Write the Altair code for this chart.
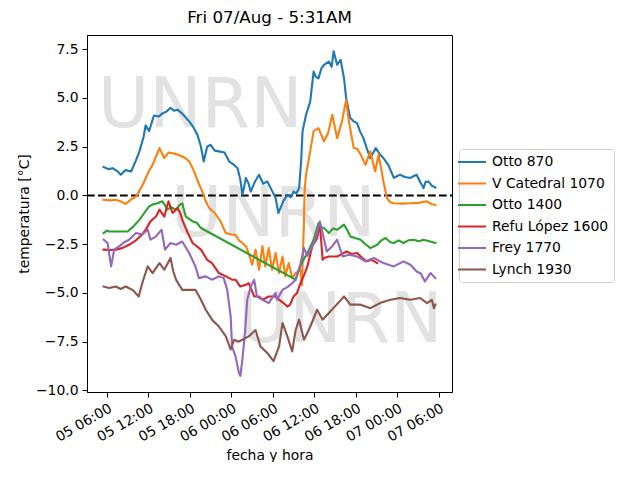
import altair as alt
import pandas as pd

# ---- data (hours after 2020-08-05 06:00, temperature in °C) ----
SERIES = ["Otto 870", "V Catedral 1070", "Otto 1400", "Refu López 1600", "Frey 1770", "Lynch 1930"]
COLORS = ["#1f77b4", "#ff7f0e", "#2ca02c", "#d62728", "#9467bd", "#8c564b"]

H_OTTO870 = [-0.48, 0.2, 0.8, 1.5, 2.0, 2.7, 3.5, 4.2, 4.7, 5.3, 5.6, 6.1, 6.8, 7.5, 8.0, 8.6, 9.2, 9.7,
             10.2, 10.9, 11.9, 12.5, 13.1, 13.6, 14.0, 14.5, 15.0, 15.6, 16.2, 17.0, 17.7, 18.3, 18.9, 19.3,
             19.6, 20.1, 20.5, 20.8, 21.4, 22.0, 22.6, 23.2, 23.8, 24.4, 24.8, 25.1, 25.5, 26.1, 26.6, 27.0,
             27.4, 27.8, 28.1, 28.3, 28.8, 29.4, 29.9, 30.2, 30.6, 31.0, 31.4, 32.1, 32.5, 32.8, 33.3, 33.8,
             34.3, 34.6, 35.2, 35.7, 36.2, 36.6, 37.1, 37.6, 38.1, 38.9, 39.5, 40.0, 40.7, 41.5, 42.0, 42.4,
             43.1, 43.9, 44.4, 44.8, 45.3, 45.8, 46.1, 46.5, 47.0, 47.52]
V_OTTO870 = [1.46, 1.35, 1.4, 1.25, 1.06, 1.3, 1.23, 1.8, 2.26, 3.0, 3.6, 3.3, 4.1, 4.05, 4.2, 4.3, 4.5, 4.35,
             4.4, 4.2, 3.8, 3.5, 3.1, 2.5, 1.74, 2.5, 2.6, 2.3, 2.26, 2.2, 1.74, 1.6, 1.4, 0.8,
             0.03, 0.9, 0.6, 0.2, 0.7, 1.06, 0.6, 0.72, 0.3, -0.13, -0.9, -0.65, -0.3, 0.03, -0.1, 0.2,
             0.1, 0.38, 1.8, 3.3, 4.14, 4.8, 6.36, 6.1, 6.0, 6.5, 6.7, 6.87, 6.6, 7.4, 6.7, 6.96,
             6.0, 5.0, 3.97, 3.8, 3.7, 3.3, 2.94, 2.4, 1.92, 2.43, 2.1, 1.92, 1.57, 0.9, 1.0, 1.06,
             0.95, 0.9, 1.0, 1.06, 0.7, 0.38, 0.7, 0.72, 0.5, 0.41]

H_VCAT1070 = [-0.48, 0.5, 1.3, 2.0, 2.7, 3.5, 4.2, 4.8, 5.4, 6.0, 6.6, 7.1, 7.6, 8.3, 8.9, 9.5, 10.2, 10.9,
              11.4, 11.9, 12.4, 12.8, 13.3, 13.8, 14.3, 14.8, 15.6, 16.4, 17.2, 18.0, 18.6, 19.1, 19.6,
              20.1, 20.5, 21.0, 21.5, 22.0, 22.5, 22.9, 23.4, 23.9, 24.4, 24.9, 25.4, 25.8, 26.3, 26.8,
              27.3, 28.0, 28.2, 28.5, 28.6, 28.8, 29.4, 29.9, 30.6, 31.4, 32.0, 32.6, 33.3, 34.0, 34.6,
              35.0, 35.7, 36.2, 36.7, 37.4, 38.1, 38.8, 39.3, 40.0, 40.5, 41.0, 41.5, 42.7, 43.9, 45.1,
              46.3, 47.0, 47.52]
V_VCAT1070 = [-0.22, -0.25, -0.22, -0.3, -0.44, -0.2, -0.05, 0.3, 0.72, 1.2, 1.57, 2.0, 2.43, 1.92, 2.2, 2.17,
              2.1, 2.0, 1.9, 1.74, 1.4, 1.06, 0.6, 0.2, -0.3, -0.65, -0.9, -1.3, -1.93, -2.0, -2.02, -2.3,
              -2.44, -2.6, -2.95, -3.55, -2.78, -3.81, -2.6, -3.64, -2.7, -3.81, -2.95, -3.98, -3.13, -4.15,
              -3.47, -4.24, -3.98, -3.81, -4.6, -1.42, 0.3, 1.06, 2.26, 3.3, 3.45, 2.77, 3.2, 4.14, 2.94,
              3.8, 4.9, 3.8, 2.43, 2.4, 2.1, 1.57, 2.26, 1.23, 2.1, 0.72, -0.13, -0.35, -0.4, -0.42, -0.4,
              -0.38, -0.3, -0.45, -0.48]

H_OTTO1400 = [-0.48, 0.0, 0.3, 1.5, 3.0, 3.8, 4.7, 5.4, 6.1, 6.7, 7.3, 8.0, 8.4, 8.7, 9.3, 10.0, 10.5, 10.9,
              11.4, 11.9, 12.4, 13.0, 13.6, 27.3, 27.8, 28.3, 29.0, 29.9, 30.6, 30.9, 31.5, 32.1, 32.7,
              33.3, 34.3, 34.8, 35.2, 36.0, 36.7, 37.4, 38.1, 39.1, 39.7, 40.3, 41.0, 41.5, 42.2, 42.9,
              43.6, 44.4, 45.1, 45.8, 46.6, 47.52]
V_OTTO1400 = [-1.93, -1.8, -1.85, -1.85, -1.85, -1.6, -1.25, -0.9, -0.56, -0.45, -0.4, -0.3, -0.5, -0.73,
              -0.6, -0.73, -0.5, -0.4, -1.08, -1.2, -1.33, -1.4, -1.67, -4.32, -3.8, -3.38, -2.95, -2.27,
              -1.42, -1.59, -1.7, -1.93, -1.7, -1.76, -1.5, -1.8, -2.1, -2.2, -2.27, -2.5, -2.7, -2.53,
              -2.3, -2.18, -2.4, -2.44, -2.3, -2.44, -2.3, -2.27, -2.35, -2.27, -2.35, -2.44]

H_REFU1600 = [-0.48, 0.5, 1.3, 2.2, 3.2, 4.2, 5.1, 5.7, 6.3, 7.1, 7.6, 8.3, 8.9, 9.5, 10.2, 10.6, 10.9, 11.7,
              12.4, 13.6, 14.5, 15.2, 16.2, 17.2, 18.1, 18.6, 19.3, 20.1, 20.5, 21.0, 21.3, 22.0, 22.5,
              23.0, 23.4, 24.4, 24.9, 25.5, 26.1, 26.5, 27.0, 27.5, 28.0, 28.5, 29.0, 29.7, 30.4, 30.8,
              31.2, 31.5, 32.1, 33.3, 34.0, 34.7, 35.4, 36.2, 36.9, 37.6, 38.3, 39.1]
V_REFU1600 = [-2.78, -2.8, -2.78, -2.7, -2.53, -2.3, -2.0, -1.7, -1.33, -1.08, -0.73, -1.08, -0.3, -0.9,
              -0.65, -0.9, -1.25, -1.93, -2.44, -2.78, -3.3, -3.47, -3.98, -4.15, -4.32, -4.32, -4.67,
              -4.58, -4.5, -4.92, -5.18, -5.18, -5.35, -5.26, -5.18, -5.18, -5.35, -5.5, -5.7, -5.6,
              -5.18, -5.0, -4.5, -4.1, -3.64, -2.6, -2.2, -1.42, -3.3, -3.2, -3.13, -3.13, -3.0, -2.87,
              -3.0, -2.95, -3.2, -3.38, -3.3, -3.47]

H_FREY1770 = [-0.48, 0.1, 0.6, 1.05, 1.8, 2.5, 3.2, 4.2, 5.1, 5.9, 6.3, 7.1, 7.9, 8.4, 9.2, 10.0, 10.9,
              11.9, 12.8, 13.3, 14.3, 15.2, 16.2, 16.9, 17.4, 17.9, 18.1, 18.6, 19.1, 19.3, 19.6, 20.0,
              20.3, 20.8, 21.3, 21.7, 22.5, 23.4, 24.4, 24.6, 25.4, 26.1, 26.8, 27.3, 28.0, 28.5, 29.0,
              29.7, 30.2, 30.5, 30.8, 31.2, 31.8, 32.6, 33.3, 34.1, 35.0, 36.2, 37.4, 38.6, 40.0, 41.5,
              42.9, 43.9, 44.8, 45.4, 46.0, 46.8, 47.52]
V_FREY1770 = [-2.27, -2.44, -3.64, -2.78, -2.6, -2.4, -2.27, -1.93, -2.0, -1.76, -2.27, -2.1, -1.76, -2.78,
              -2.44, -2.53, -2.36, -2.95, -3.64, -4.24, -4.15, -4.32, -4.15, -4.24, -4.84, -6.2, -7.74,
              -8.26, -9.1, -9.25, -8.4, -6.9, -5.35, -4.67, -4.32, -5.18, -5.35, -5.52, -5.0, -5.35,
              -4.84, -4.7, -4.5, -4.32, -3.5, -2.7, -3.1, -2.6, -2.2, -1.76, -1.33, -1.93, -2.87, -2.6,
              -2.27, -3.13, -3.04, -3.13, -3.38, -3.21, -3.47, -3.64, -3.38, -3.55, -3.9, -4.0, -4.41,
              -3.98, -4.24]

H_LYNCH1930 = [-0.48, 0.3, 1.3, 2.0, 2.7, 3.7, 4.6, 5.1, 5.9, 6.6, 7.6, 8.3, 9.2, 9.6, 10.0, 10.9, 11.9,
               12.8, 13.6, 14.3, 15.2, 16.2, 17.2, 17.9, 18.4, 19.0, 19.6, 20.5, 21.5, 22.2, 23.2, 24.1,
               24.9, 25.4, 26.1, 26.8, 27.3, 27.8, 28.5, 29.2, 29.8, 30.4, 31.2, 32.1, 33.0, 34.3, 35.2,
               36.7, 38.1, 39.5, 41.0, 42.4, 43.9, 45.3, 46.3, 47.0, 47.3, 47.52]
V_LYNCH1930 = [-4.67, -4.75, -4.67, -4.8, -4.67, -4.84, -5.18, -4.5, -3.64, -3.98, -3.47, -3.81, -3.21,
               -3.9, -4.32, -4.84, -4.84, -4.84, -5.35, -5.86, -6.37, -6.72, -7.23, -7.9, -7.4, -7.5,
               -7.4, -7.23, -6.9, -7.74, -8.08, -8.5, -7.74, -6.54, -7.23, -8.0, -6.9, -6.37, -7.4,
               -6.9, -6.4, -5.86, -6.37, -6.03, -5.69, -5.18, -5.6, -5.6, -5.78, -5.52, -5.35, -5.26,
               -5.35, -5.26, -5.52, -5.35, -5.78, -5.6]

Y_TICKS = [-10.0, -7.5, -5.0, -2.5, 0.0, 2.5, 5.0, 7.5]
X_TICK_HOURS = [0, 6, 12, 18, 24, 30, 36, 42, 48]
TITLE = "Fri 07/Aug - 5:31AM"
WATERMARK = "UNRN"

# ---- build table ----
BASE = pd.Timestamp("2020-08-05 06:00:00")
rows = []
for name, hs, vs in [
    (SERIES[0], H_OTTO870, V_OTTO870),
    (SERIES[1], H_VCAT1070, V_VCAT1070),
    (SERIES[2], H_OTTO1400, V_OTTO1400),
    (SERIES[3], H_REFU1600, V_REFU1600),
    (SERIES[4], H_FREY1770, V_FREY1770),
    (SERIES[5], H_LYNCH1930, V_LYNCH1930),
]:
    for h, v in zip(hs, vs):
        t = BASE + pd.Timedelta(minutes=round(h * 60))
        rows.append({"fecha": t.strftime("%Y-%m-%dT%H:%M:%S"), "temp": v, "serie": name})
df = pd.DataFrame(rows)

def dt(h):
    t = BASE + pd.Timedelta(minutes=round(h * 60))
    return alt.DateTime(year=t.year, month=t.month, date=t.day, hours=t.hour, minutes=t.minute)

x_scale = alt.Scale(domain=[dt(-2.88), dt(49.92)], nice=False)
y_scale = alt.Scale(domain=[-10.08, 8.23], nice=False, zero=False)

W, H = 365, 357
FONT = "DejaVu Sans"

lines = alt.Chart(df).mark_line(strokeWidth=2.1, strokeJoin="round", strokeCap="square").encode(
    x=alt.X("fecha:T", scale=x_scale, title="fecha y hora",
            axis=alt.Axis(values=[dt(h) for h in X_TICK_HOURS], format="%d %H:%M",
                          labelAngle=330, labelAlign="right", labelBaseline="top", grid=False,
                          labelOverlap=False, labelFlush=False)),
    y=alt.Y("temp:Q", scale=y_scale, title="temperatura [°C]",
            axis=alt.Axis(values=Y_TICKS, format=".1f", grid=False, labelOverlap=False)),
    color=alt.Color("serie:N", scale=alt.Scale(domain=SERIES, range=COLORS),
                    legend=alt.Legend(title=None, orient="none", legendX=372, legendY=114,
                                      symbolType="M-2,0L2,0", symbolSize=196, symbolStrokeWidth=2,
                                      labelFontSize=13.9, labelFont=FONT, labelColor="black",
                                      labelOffset=12, padding=5, rowPadding=6.5,
                                      strokeColor="#d0d0d0", cornerRadius=3, fillColor="white")),
    detail="serie:N",
)

zero = alt.Chart(pd.DataFrame({"z": [0]})).mark_rule(
    color="black", strokeWidth=2.1, strokeDash=[7.7, 3.3]
).encode(y=alt.Y("z:Q", scale=y_scale), x=alt.value(0), x2=alt.value(W))

wm_df = pd.DataFrame({"txt": [WATERMARK]})
def wm(px, py):
    return alt.Chart(wm_df).mark_text(
        font=FONT, fontSize=70, color="#e2e2e2", align="left", baseline="alphabetic"
    ).encode(text="txt:N", x=alt.value(px), y=alt.value(py))

chart = alt.layer(
    wm(11, 92), wm(84, 201), wm(151, 307), zero, lines
).properties(
    width=W, height=H,
    title=alt.TitleParams(TITLE, fontSize=16.7, font=FONT, fontWeight="normal", anchor="middle",
                          color="black", offset=8),
    autosize=alt.AutoSizeParams(type="none"),
    padding={"left": 79, "top": 27, "right": 170, "bottom": 70},
).configure_axis(
    labelFont=FONT, labelFontSize=13.9, labelColor="black", titleFont=FONT, titleFontSize=13.9,
    titleFontWeight="normal", titleColor="black", domainColor="black", tickColor="black",
    tickSize=5, labelPadding=4, domainWidth=1, tickWidth=1,
).configure_view(stroke="black", strokeWidth=1)

chart.save("out.html", embed_options={"renderer": "svg", "actions": False})
